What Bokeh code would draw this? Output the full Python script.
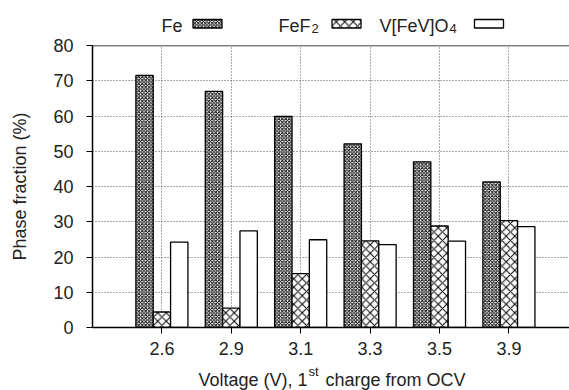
from bokeh.plotting import figure
from bokeh.layouts import column
from bokeh.models import Range1d, FixedTicker, Span
from bokeh.core.properties import value
from bokeh.embed import file_html
from bokeh.resources import INLINE

# Phase fractions (%) after the first charge from OCV
voltages = ["2.6", "2.9", "3.1", "3.3", "3.5", "3.9"]
fe = [71.5, 67.0, 59.9, 52.1, 47.0, 41.3]
fef2 = [4.4, 5.5, 15.3, 24.6, 28.8, 30.3]
vfevo4 = [24.2, 27.4, 24.9, 23.5, 24.5, 28.6]

FONT = "Liberation Sans"
FS = "18px"
idx = list(range(len(voltages)))

# frames of the stacked figures share the same left/right edges (92..569 px)
FRAME_L, FRAME_R = 92, 569

fe_style = dict(fill_color="white", line_color="black", line_width=1.3,
                hatch_pattern="diagonal_cross", hatch_scale=3.5,
                hatch_weight=1.0, hatch_color="black")
fef2_style = dict(fill_color="white", line_color="black", line_width=1.3,
                  hatch_pattern="diagonal_cross", hatch_scale=8.5,
                  hatch_weight=1.0, hatch_color="black")
v_style = dict(fill_color="white", line_color="black", line_width=1.3)


def strip(height):
    # pixel-coordinate strip (y grows downward) used for legend and axis title
    s = figure(width=569, height=height, x_range=Range1d(FRAME_L, FRAME_R),
               y_range=Range1d(height, 0), x_axis_type=None, y_axis_type=None,
               output_backend="svg", toolbar_location=None, min_border=0,
               min_border_left=FRAME_L, min_border_right=0)
    s.grid.visible = False
    s.outline_line_color = None
    return s


def txt(p, x, y, s, size=FS, align="left"):
    p.text(x=[x], y=[y], text=[s], text_font=value(FONT), text_font_size=size,
           text_align=align, text_baseline="alphabetic", text_color="#222222")


# ---- legend strip above the plot
leg = strip(36)
txt(leg, 161, 25, "Fe")
leg.quad(left=[192.5], right=[221.5], top=[19], bottom=[27.5], **fe_style)
txt(leg, 310, 25, "FeF", align="right")
txt(leg, 311, 28, "2", size="13px")
leg.quad(left=[331.5], right=[360.5], top=[19], bottom=[27.5], **fef2_style)
txt(leg, 448, 25, "V[FeV]O", align="right")
txt(leg, 449, 28, "4", size="13px")
leg.quad(left=[474], right=[503], top=[19], bottom=[27.5], **v_style)

# ---- main bar chart
p = figure(width=569, height=329, x_range=Range1d(-1.0, 5.873), y_range=Range1d(0, 80),
           output_backend="svg", toolbar_location=None,
           min_border_left=FRAME_L, min_border_right=0, min_border_top=9,
           min_border_bottom=38)
p.outline_line_color = None

p.vbar(x=[i - 0.25 for i in idx], top=fe, width=0.25, bottom=0, **fe_style)
p.vbar(x=idx, top=fef2, width=0.25, bottom=0, **fef2_style)
p.vbar(x=[i + 0.25 for i in idx], top=vfevo4, width=0.25, bottom=0, **v_style)

p.add_layout(Span(location=80, dimension="width", line_color="black", line_width=1.5))

p.xaxis.ticker = FixedTicker(ticks=idx)
p.xaxis.major_label_overrides = {i: v for i, v in zip(idx, voltages)}
p.yaxis.ticker = FixedTicker(ticks=list(range(0, 81, 10)))

for ax in (p.xaxis, p.yaxis):
    ax.axis_line_width = 1.5
    ax.axis_line_color = "black"
    ax.major_tick_in = 0
    ax.major_tick_out = 6
    ax.major_tick_line_color = "black"
    ax.minor_tick_line_color = None
    ax.major_label_text_font = FONT
    ax.major_label_text_font_size = FS
    ax.major_label_text_color = "#222222"

p.xaxis.major_label_standoff = 8
p.yaxis.major_label_standoff = 13
p.yaxis.axis_label = "Phase fraction (%)"
p.yaxis.axis_label_text_font = FONT
p.yaxis.axis_label_text_font_size = FS
p.yaxis.axis_label_text_font_style = "normal"
p.yaxis.axis_label_text_color = "#222222"
p.yaxis.axis_label_standoff = 20

for g in (p.xgrid, p.ygrid):
    g.grid_line_color = "#555555"
    g.grid_line_dash = "1 2"
    g.grid_line_width = 1
p.xgrid.ticker = FixedTicker(ticks=idx)
p.ygrid.ticker = FixedTicker(ticks=list(range(10, 80, 10)))

# ---- x axis title with superscript
xl = strip(25)
txt(xl, 307, 14, "Voltage (V), 1", align="right")
txt(xl, 308, 6, "st", size="13px")
txt(xl, 325, 14, "charge from OCV")

layout = column(leg, p, xl, spacing=0)
open("out.html", "w").write(file_html(layout, INLINE))
